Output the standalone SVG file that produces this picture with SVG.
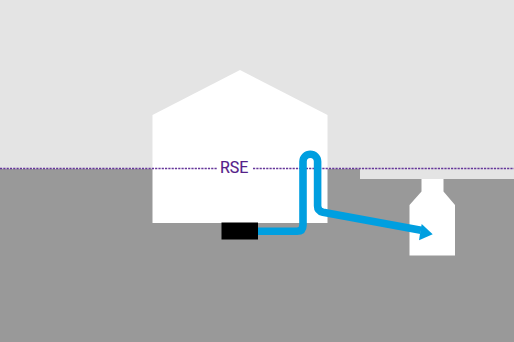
<svg xmlns="http://www.w3.org/2000/svg" width="514" height="342" viewBox="0 0 514 342">
  <style>
    .cut { fill: #fff; }
    .pipe { fill: none; stroke: #009fe0; stroke-width: 7.6; }
    .level { fill: none; stroke: #66379a; stroke-width: 1.6; stroke-dasharray: 2.2 1.1; }
    .label { font-family: Roboto, "Liberation Sans", sans-serif; font-size: 16px; fill: #552089; stroke: #552089; stroke-width: 0.15; }
  </style>
  <g id="ground">
    <rect x="0" y="0" width="514" height="169" fill="#e4e4e4"/>
    <rect x="0" y="169" width="514" height="173" fill="#999"/>
  </g>
  <g id="house">
    <path class="cut" d="M152.500 115 L240 70 L327.500 115 V223 H152.500 Z"/>
  </g>
  <g id="slab">
    <rect x="360" y="169" width="154" height="10" fill="#e4e4e4"/>
  </g>
  <g id="tank">
    <path class="cut" d="M421.500 179 H443.500 V191.500 L455 205 V255.500 H409.500 V205 L421.500 191.500 Z"/>
  </g>
  <g id="level-line">
    <path class="level" d="M0 168.500 H217"/>
    <path class="level" d="M253 168.500 H514"/>
    <text class="label" x="220" y="173">RSE</text>
  </g>
  <g id="connectors">
    <path class="pipe" d="M258 231.300 H297 Q303 231.300 303 225 V161.500 A7.300 7.300 0 0 1 317.600 161.500 V206 Q317.600 211 323 212.300 L421 230.300"/>
    <polygon points="432.700,234.300 419,240.300 420.500,230.500 421.700,224" fill="#009fe0"/>
  </g>
  <g id="pump">
    <rect x="221.500" y="222.500" width="36.500" height="17" fill="#000"/>
  </g>
</svg>
